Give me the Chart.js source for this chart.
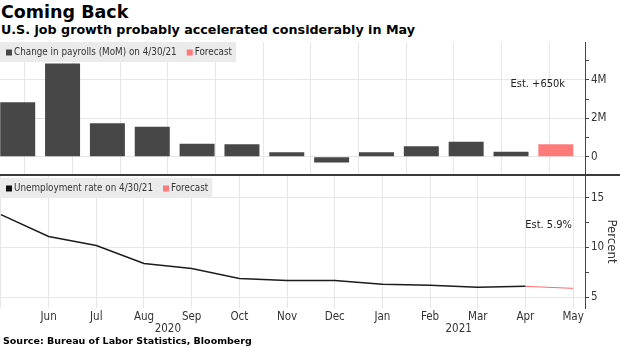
<!DOCTYPE html>
<html>
<head>
<meta charset="utf-8">
<script src="https://cdn.jsdelivr.net/npm/chart.js@4"></script>
<style>
  html, body { margin: 0; padding: 0; background: #fff; }
  body { width: 620px; height: 348px; position: relative; overflow: hidden; font-family: "DejaVu Sans", sans-serif; color: #000; }
  .title { position: absolute; left: 1px; top: 4px; font-size: 17.5px; line-height: 17.5px; font-weight: bold; white-space: nowrap; }
  .subtitle { position: absolute; left: 1px; top: 24px; font-size: 12.7px; line-height: 12.7px; font-weight: bold; white-space: nowrap; }
  .source { position: absolute; left: 3px; top: 336px; font-size: 9.5px; line-height: 9.5px; font-weight: bold; white-space: nowrap; }
  #payrollBox { position: absolute; left: 0; top: 42px; width: 620px; height: 133px; }
  #rateBox { position: absolute; left: 0; top: 175px; width: 620px; height: 173px; }
  .rule { position: absolute; left: 0; top: 174px; width: 620px; height: 2px; background: #3a3a3a; }
</style>
</head>
<body>
<div class="title">Coming Back</div>
<div class="subtitle">U.S. job growth probably accelerated considerably in May</div>
<div id="payrollBox"><canvas id="payrollChart"></canvas></div>
<div id="rateBox"><canvas id="rateChart"></canvas></div>
<div class="rule"></div>
<div class="source">Source: Bureau of Labor Statistics, Bloomberg</div>
<script>
// May 2020 .. May 2021
const months = ['May', 'Jun', 'Jul', 'Aug', 'Sep', 'Oct', 'Nov', 'Dec', 'Jan', 'Feb', 'Mar', 'Apr', 'May'];
const years = ['2020', '2021'];

// nonfarm payrolls, change in thousands, May 2020 .. Apr 2021
const payrolls = [2830, 4850, 1740, 1560, 680, 650, 230, -300, 230, 540, 780, 260];
const payrollForecast = 650;

// unemployment rate, %, May 2020 .. Apr 2021
const unemployment = [13.3, 11.1, 10.2, 8.4, 7.9, 6.9, 6.7, 6.7, 6.3, 6.2, 6.0, 6.1];
const unemploymentForecast = 5.9;

const payrollTickValues = [0, 2000, 4000];
const payrollTickLabels = ['0', '2M', '4M'];
const rateTickValues = [5, 10, 15];
const rateTickLabels = ['5', '10', '15'];

const darkBar = '#474747';
const forecastColor = '#ff7b7b';
const gridColor = '#e6e6e6';
const axisColor = '#444';
const textColor = '#333';
const condensed = '"DejaVu Sans Condensed", "DejaVu Sans", sans-serif';

// grey legend strip in the top-left corner of each panel
const legendBox = {
  id: 'legendBox',
  afterDatasetsDraw(chart, args, opts) {
    const ctx = chart.ctx;
    const items = chart.data.datasets.map(ds => ({ text: ds.label, color: ds.backgroundColor }));
    ctx.save();
    ctx.font = '9.8px ' + condensed;
    let width = 6;
    items.forEach((it, i) => {
      width += 8 + ctx.measureText(it.text).width + (i < items.length - 1 ? 10 : 4);
    });
    ctx.fillStyle = '#ebebeb';
    ctx.fillRect(0, opts.top, width, 20);
    const cy = opts.top + 10.5;
    let x = 6;
    items.forEach(it => {
      ctx.fillStyle = it.color;
      ctx.fillRect(x, cy - 3, 6, 6);
      ctx.fillStyle = textColor;
      ctx.textBaseline = 'middle';
      ctx.fillText(it.text, x + 8, cy);
      x += 8 + ctx.measureText(it.text).width + 10;
    });
    ctx.restore();
  }
};

const estimateLabel = {
  id: 'estimateLabel',
  afterDatasetsDraw(chart, args, opts) {
    const { ctx, chartArea } = chart;
    ctx.save();
    ctx.font = '11px ' + condensed;
    ctx.fillStyle = '#222';
    ctx.textAlign = 'right';
    ctx.textBaseline = 'alphabetic';
    ctx.fillText(opts.text, chartArea.right - opts.dx, chartArea.top + opts.dy);
    ctx.restore();
  }
};

// year captions under the month labels
const yearLabels = {
  id: 'yearLabels',
  afterDraw(chart) {
    const { ctx } = chart;
    const x = chart.scales.x;
    const centers = [3.5, 9.6];
    ctx.save();
    ctx.font = '11.5px ' + condensed;
    ctx.fillStyle = textColor;
    ctx.textAlign = 'center';
    ctx.textBaseline = 'alphabetic';
    years.forEach((y, i) => ctx.fillText(y, x.getPixelForValue(centers[i]), chart.chartArea.bottom + 24));
    ctx.restore();
  }
};

const monthTicks = scale => { scale.ticks = months.map((m, i) => ({ value: i })); };
const tickFont = { family: condensed, size: 11.5 };

// keep the plot area flush with the canvas: no room reserved for edge labels
const noEdgePadding = scale => {
  scale.paddingTop = 0;
  scale.paddingBottom = 0;
  scale.paddingLeft = 0;
  scale.paddingRight = 0;
};

new Chart(document.getElementById('payrollChart'), {
  type: 'bar',
  data: {
    datasets: [{
      label: 'Change in payrolls (MoM) on 4/30/21',
      data: payrolls.map((v, i) => ({ x: i, y: v })),
      backgroundColor: darkBar
    }, {
      label: 'Forecast',
      data: [{ x: payrolls.length, y: payrollForecast }],
      backgroundColor: forecastColor
    }]
  },
  options: {
    responsive: true,
    maintainAspectRatio: false,
    animation: false,
    layout: { padding: 0 },
    datasets: { bar: { grouped: false, categoryPercentage: 1, barPercentage: 0.78 } },
    plugins: {
      legend: { display: false },
      tooltip: { enabled: false },
      legendBox: { top: 0 },
      estimateLabel: { text: 'Est. +' + payrollForecast + 'k', dx: 20, dy: 44.7 }
    },
    scales: {
      x: {
        type: 'linear', min: -0.395, max: 12.65, offset: false, display: false,
        afterBuildTicks: monthTicks
      },
      xg: {
        type: 'linear', position: 'bottom', min: -0.02, max: 12.25, offset: false,
        afterBuildTicks: monthTicks,
        afterFit: scale => { noEdgePadding(scale); scale.height = 0; },
        ticks: { display: false },
        grid: { color: gridColor, drawTicks: false },
        border: { display: false }
      },
      y: {
        position: 'right', min: -950, max: 5970,
        afterBuildTicks: scale => { scale.ticks = [0, 1, 2, 3, 4, 5].map(k => ({ value: k * 1000 })); },
        afterFit: scale => { noEdgePadding(scale); scale.width = 35; },
        ticks: {
          color: textColor, font: tickFont, padding: 2,
          callback: v => {
            const i = payrollTickValues.indexOf(v);
            return i >= 0 ? payrollTickLabels[i] : '';
          }
        },
        grid: {
          color: ctx => (ctx.tick && payrollTickValues.includes(ctx.tick.value)) ? gridColor : 'rgba(0,0,0,0)',
          tickColor: axisColor, tickLength: 4
        },
        border: { color: axisColor, width: 1 }
      }
    }
  },
  plugins: [legendBox, estimateLabel]
});

new Chart(document.getElementById('rateChart'), {
  type: 'line',
  data: {
    datasets: [{
      label: 'Unemployment rate on 4/30/21',
      data: unemployment.map((v, i) => ({ x: i, y: v })),
      borderColor: '#1c1c1c',
      backgroundColor: '#111',
      borderWidth: 1.5,
      pointRadius: 0,
      tension: 0
    }, {
      label: 'Forecast',
      data: [
        { x: unemployment.length - 1, y: unemployment[unemployment.length - 1] },
        { x: unemployment.length, y: unemploymentForecast }
      ],
      borderColor: '#ff6b6b',
      backgroundColor: forecastColor,
      borderWidth: 1,
      pointRadius: 0
    }]
  },
  options: {
    responsive: true,
    maintainAspectRatio: false,
    animation: false,
    layout: { padding: 0 },
    plugins: {
      legend: { display: false },
      tooltip: { enabled: false },
      legendBox: { top: 3 },
      estimateLabel: { text: 'Est. ' + unemploymentForecast + '%', dx: 13, dy: 52.7 }
    },
    scales: {
      x: {
        type: 'linear', min: -0.02, max: 12.25, offset: false,
        afterBuildTicks: monthTicks,
        afterFit: scale => { noEdgePadding(scale); scale.height = 40; },
        ticks: {
          color: textColor, font: tickFont, padding: 2,
          autoSkip: false, maxRotation: 0, minRotation: 0,
          callback: v => (v === 0 ? '' : months[v])
        },
        grid: { color: gridColor, drawTicks: false },
        border: { display: false }
      },
      y: {
        position: 'right', min: 3.93, max: 17.27,
        afterBuildTicks: scale => { scale.ticks = [5, 7.5, 10, 12.5, 15].map(v => ({ value: v })); },
        afterFit: scale => { noEdgePadding(scale); scale.width = 35; },
        title: {
          display: true, text: 'Percent', color: textColor,
          font: { family: condensed, size: 13 },
          padding: { top: 1, bottom: 0 }
        },
        ticks: {
          color: textColor, font: tickFont, padding: 2,
          callback: v => {
            const i = rateTickValues.indexOf(v);
            return i >= 0 ? rateTickLabels[i] : '';
          }
        },
        grid: {
          color: ctx => (ctx.tick && rateTickValues.includes(ctx.tick.value)) ? gridColor : 'rgba(0,0,0,0)',
          tickColor: axisColor, tickLength: 4
        },
        border: { color: axisColor, width: 1 }
      }
    }
  },
  plugins: [legendBox, estimateLabel, yearLabels]
});
</script>
</body>
</html>
